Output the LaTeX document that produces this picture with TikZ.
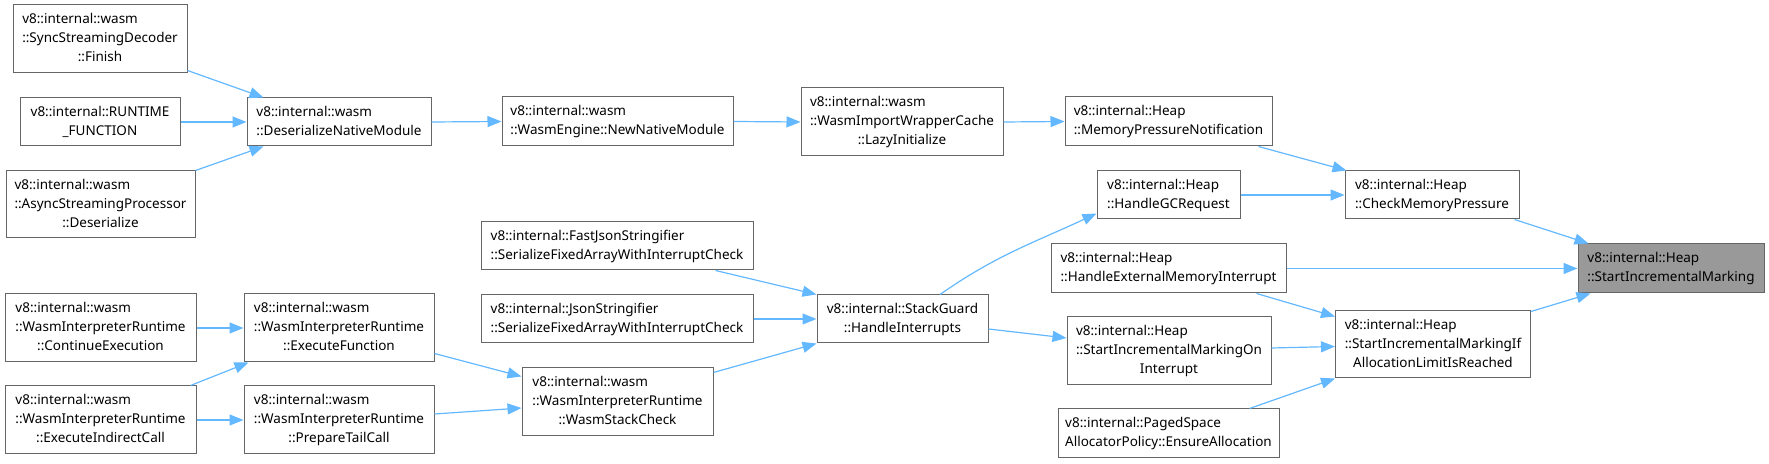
\documentclass[tikz,border=0pt]{standalone}
\usepackage{fontspec}
\setmainfont{Noto Sans}
\usepackage{tikz}
\usetikzlibrary{arrows.meta,positioning}
\definecolor{edgeblue}{RGB}{99,184,255}
\definecolor{boxline}{RGB}{102,102,102}
\definecolor{hilite}{RGB}{153,153,153}
% first lines flush left, last line centred
\newcommand{\fnl}[2]{\begin{tabular}{@{}l@{}}#1\\\multicolumn{1}{@{}c@{}}{#2}\end{tabular}}

\begin{document}
\begin{tikzpicture}[x=0.5pt,y=-0.5pt,font=\fontsize{6.75}{9.5}\selectfont]
\tikzset{fn/.style 2 args={draw=boxline,line width=0.5pt,fill=white,inner sep=0pt,minimum width=#1*0.5pt,minimum height=#2*0.5pt},
  call/.style={-{Triangle[length=7pt,width=5.5pt]},edgeblue,line width=0.6pt}}
\useasboundingbox (0,0) rectangle (1769,464);
% callers on the left
\node[fn={174}{68}] (finish) at (100,39) {\fnl{v8::internal::wasm\\::SyncStreamingDecoder}{::Finish}};
\node[fn={160}{48}] (runtime) at (100,122) {\fnl{v8::internal::RUNTIME}{\_FUNCTION}};
\node[fn={189}{67}] (asyncdes) at (100.5,204.5) {\fnl{v8::internal::wasm\\::AsyncStreamingProcessor}{::Deserialize}};
\node[fn={191}{68}] (conexec) at (100.5,328) {\fnl{v8::internal::wasm\\::WasmInterpreterRuntime}{::ContinueExecution}};
\node[fn={191}{68}] (execind) at (100.5,420) {\fnl{v8::internal::wasm\\::WasmInterpreterRuntime}{::ExecuteIndirectCall}};
\node[fn={184}{48}] (deser) at (339,122) {\fnl{v8::internal::wasm}{::DeserializeNativeModule}};
\node[fn={190}{68}] (execfn) at (339,328) {\fnl{v8::internal::wasm\\::WasmInterpreterRuntime}{::ExecuteFunction}};
\node[fn={190}{68}] (preptail) at (339,420) {\fnl{v8::internal::wasm\\::WasmInterpreterRuntime}{::PrepareTailCall}};
\node[fn={231}{49}] (newnative) at (617.5,121.5) {\fnl{v8::internal::wasm}{::WasmEngine::NewNativeModule}};
\node[fn={272}{48}] (fastjson) at (617,246) {\fnl{v8::internal::FastJsonStringifier}{::SerializeFixedArrayWithInterruptCheck}};
\node[fn={272}{48}] (jsonstr) at (617,319) {\fnl{v8::internal::JsonStringifier}{::SerializeFixedArrayWithInterruptCheck}};
\node[fn={191}{68}] (stackcheck) at (617.5,402) {\fnl{v8::internal::wasm\\::WasmInterpreterRuntime}{::WasmStackCheck}};
\node[fn={202}{68}] (lazyinit) at (902,122) {\fnl{v8::internal::wasm\\::WasmImportWrapperCache}{::LazyInitialize}};
\node[fn={171}{48}] (handleint) at (902.5,319) {\fnl{v8::internal::StackGuard}{::HandleInterrupts}};
% Heap side
\node[fn={207}{49}] (mempress) at (1168.5,121.5) {\fnl{v8::internal::Heap}{::MemoryPressureNotification}};
\node[fn={143}{48}] (handlegc) at (1168.5,195) {\fnl{v8::internal::Heap}{::HandleGCRequest}};
\node[fn={235}{49}] (handleext) at (1168.5,268.5) {\fnl{v8::internal::Heap}{::HandleExternalMemoryInterrupt}};
\node[fn={204}{68}] (startincon) at (1169,351) {\fnl{v8::internal::Heap\\::StartIncrementalMarkingOn}{Interrupt}};
\node[fn={221}{49}] (ensurealloc) at (1168.5,433.5) {\fnl{v8::internal::PagedSpace}{AllocatorPolicy::EnsureAllocation}};
\node[fn={174}{48}] (checkmem) at (1432,195) {\fnl{v8::internal::Heap}{::CheckMemoryPressure}};
\node[fn={195}{67}] (startincif) at (1433,344.5) {\fnl{v8::internal::Heap\\::StartIncrementalMarkingIf}{AllocationLimitIsReached}};
\node[fn={186}{49},fill=hilite] (startinc) at (1671,268.5) {\fnl{v8::internal::Heap}{::StartIncrementalMarking}};
% calls
\draw[call] ([yshift=1.5pt]finish.south east) -- ([xshift=8.5pt]deser.north west);
\draw[call] (runtime.east) -- (deser.west);
\draw[call] (asyncdes.north east) -- ([xshift=8.5pt]deser.south west);
\draw[call] (deser.east) -- (newnative.west);
\draw[call] (newnative.east) -- (lazyinit.west);
\draw[call] (lazyinit.east) -- (mempress.west);
\draw[call] ([xshift=-7pt]mempress.south east) -- ([xshift=1pt]checkmem.north west);
\draw[call] (handlegc.east) -- (checkmem.west);
\draw[call] ([xshift=-2.5pt]checkmem.south east) -- ([xshift=5.5pt]startinc.north west);
\draw[call] (handleext.east) -- (startinc.west);
\draw[call] ([yshift=-0.5pt]startincif.north east) -- ([xshift=6.5pt]startinc.south west);
\draw[call] ([xshift=-15pt]handleext.south east) -- ([yshift=-3pt]startincif.north west);
\draw[call] ([yshift=1.5pt]startincon.east) -- ([yshift=-1pt]startincif.west);
\draw[call] ([xshift=-15pt]ensurealloc.north east) -- (startincif.south west);
\draw[call] ([xshift=18.75pt]handleint.north) to[out=35,in=205] ([yshift=3pt]handlegc.south west);
\draw[call] ([yshift=-5pt]handleint.east) -- ([yshift=6.5pt]startincon.west);
\draw[call] ([xshift=-19pt]fastjson.south east) -- (handleint.north west);
\draw[call] (jsonstr.east) -- (handleint.west);
\draw[call] ([yshift=-2.5pt]stackcheck.north east) -- (handleint.south west);
\draw[call] ([yshift=4.5pt]execfn.south east) -- ([yshift=-4.5pt]stackcheck.north west);
\draw[call] ([yshift=3pt]preptail.east) -- ([yshift=-3pt]stackcheck.west);
\draw[call] (conexec.east) -- (execfn.west);
\draw[call] ([xshift=-3pt]execind.north east) -- ([xshift=2.5pt]execfn.south west);
\draw[call] (execind.east) -- (preptail.west);
\end{tikzpicture}
\end{document}
